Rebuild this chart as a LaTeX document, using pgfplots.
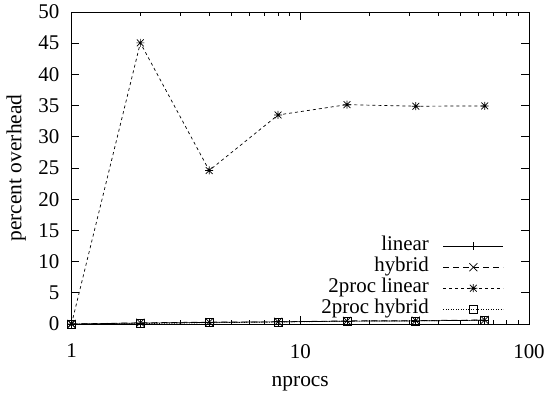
\documentclass[border=0pt]{standalone}
\usepackage{fontspec}
\setmainfont{Liberation Serif}
\usepackage{pgfplots}
\pgfplotsset{compat=1.18}
\pgfdeclareplotmark{gpx}{%
  \pgfpathmoveto{\pgfqpoint{-\pgfplotmarksize}{-\pgfplotmarksize}}\pgfpathlineto{\pgfqpoint{\pgfplotmarksize}{\pgfplotmarksize}}%
  \pgfpathmoveto{\pgfqpoint{-\pgfplotmarksize}{\pgfplotmarksize}}\pgfpathlineto{\pgfqpoint{\pgfplotmarksize}{-\pgfplotmarksize}}%
  \pgfusepathqstroke}
\pgfdeclareplotmark{gpstar}{%
  \pgfpathmoveto{\pgfqpoint{-\pgfplotmarksize}{0pt}}\pgfpathlineto{\pgfqpoint{\pgfplotmarksize}{0pt}}%
  \pgfpathmoveto{\pgfqpoint{0pt}{-\pgfplotmarksize}}\pgfpathlineto{\pgfqpoint{0pt}{\pgfplotmarksize}}%
  \pgfpathmoveto{\pgfqpoint{-0.85\pgfplotmarksize}{-0.85\pgfplotmarksize}}\pgfpathlineto{\pgfqpoint{0.85\pgfplotmarksize}{0.85\pgfplotmarksize}}%
  \pgfpathmoveto{\pgfqpoint{-0.85\pgfplotmarksize}{0.85\pgfplotmarksize}}\pgfpathlineto{\pgfqpoint{0.85\pgfplotmarksize}{-0.85\pgfplotmarksize}}%
  \pgfusepathqstroke}
\begin{document}
\fontsize{21}{25}\selectfont
\begin{tikzpicture}
\begin{axis}[
  name=ax,
  xmode=log,
  scale only axis, width=457.5bp, height=312bp,
  xmin=1, xmax=100, ymin=0, ymax=50,
  xtick={1,10,100}, xticklabels={1,10,100},
  minor xtick={2,3,4,5,6,7,8,9,20,30,40,50,60,70,80,90},
  ytick={0,5,10,15,20,25,30,35,40,45,50},
  yticklabel style={/pgf/number format/assume math mode=true, xshift=-5bp},
  xticklabel style={yshift=-13bp},
  tick label style={font=\fontsize{21}{25}\selectfont},
  label style={font=\fontsize{21.5}{25}\selectfont},
  tick pos=both, tick align=inside,
  major tick length=8bp, minor tick length=4bp,
  axis line style={line width=0.9bp},
  every tick/.style={black, line width=0.8bp},
  xlabel={nprocs}, ylabel={percent overhead},
  xlabel style={at={(axis description cs:0.5,-0.19)}, anchor=center},
  ylabel style={at={(axis description cs:-0.121,0.5)}, anchor=center},
  legend plot pos=right,
  legend cell align=right,
  legend style={draw=none, fill=none, at={(axis description cs:0.945,0.013)}, anchor=south east,
    inner sep=0pt, column sep=14bp, font=\fontsize{21}{25}\selectfont,
    nodes={inner sep=0pt, text height=15bp, text depth=6bp}},
  legend image code/.code={\draw[mark repeat=2,mark phase=2,#1] plot coordinates {(0bp,0bp) (30bp,0bp) (60bp,0bp)};},
  every axis plot/.append style={black, line width=0.7bp, mark size=4bp, mark options={solid, line width=0.7bp}},
]
\addplot[mark=+] coordinates {(1,0) (2,0.15) (4,0.25) (8,0.35) (16,0.45) (32,0.5) (64,0.6)};
\addlegendentry{linear}
\addplot[dash pattern=on 6bp off 4bp, mark=gpx] coordinates {(1,0) (2,0.2) (4,0.3) (8,0.35) (16,0.5) (32,0.55) (64,0.65)};
\addlegendentry{hybrid}
\addplot[dash pattern=on 3bp off 3bp, mark=gpstar] coordinates {(1,0) (2,45.05) (4,24.6) (8,33.5) (16,35.15) (32,34.9) (64,34.95)};
\addlegendentry{2proc linear}
\addplot[dash pattern=on 1bp off 1.5bp, mark=square] coordinates {(1,0) (2,0.05) (4,0.2) (8,0.3) (16,0.45) (32,0.5) (64,0.6)};
\addlegendentry{2proc hybrid}
\end{axis}
\pgfresetboundingbox
\path[use as bounding box] ([shift={(-71.5bp,-72bp)}]ax.south west) rectangle ([shift={(18bp,12bp)}]ax.north east);
\end{tikzpicture}
\end{document}
